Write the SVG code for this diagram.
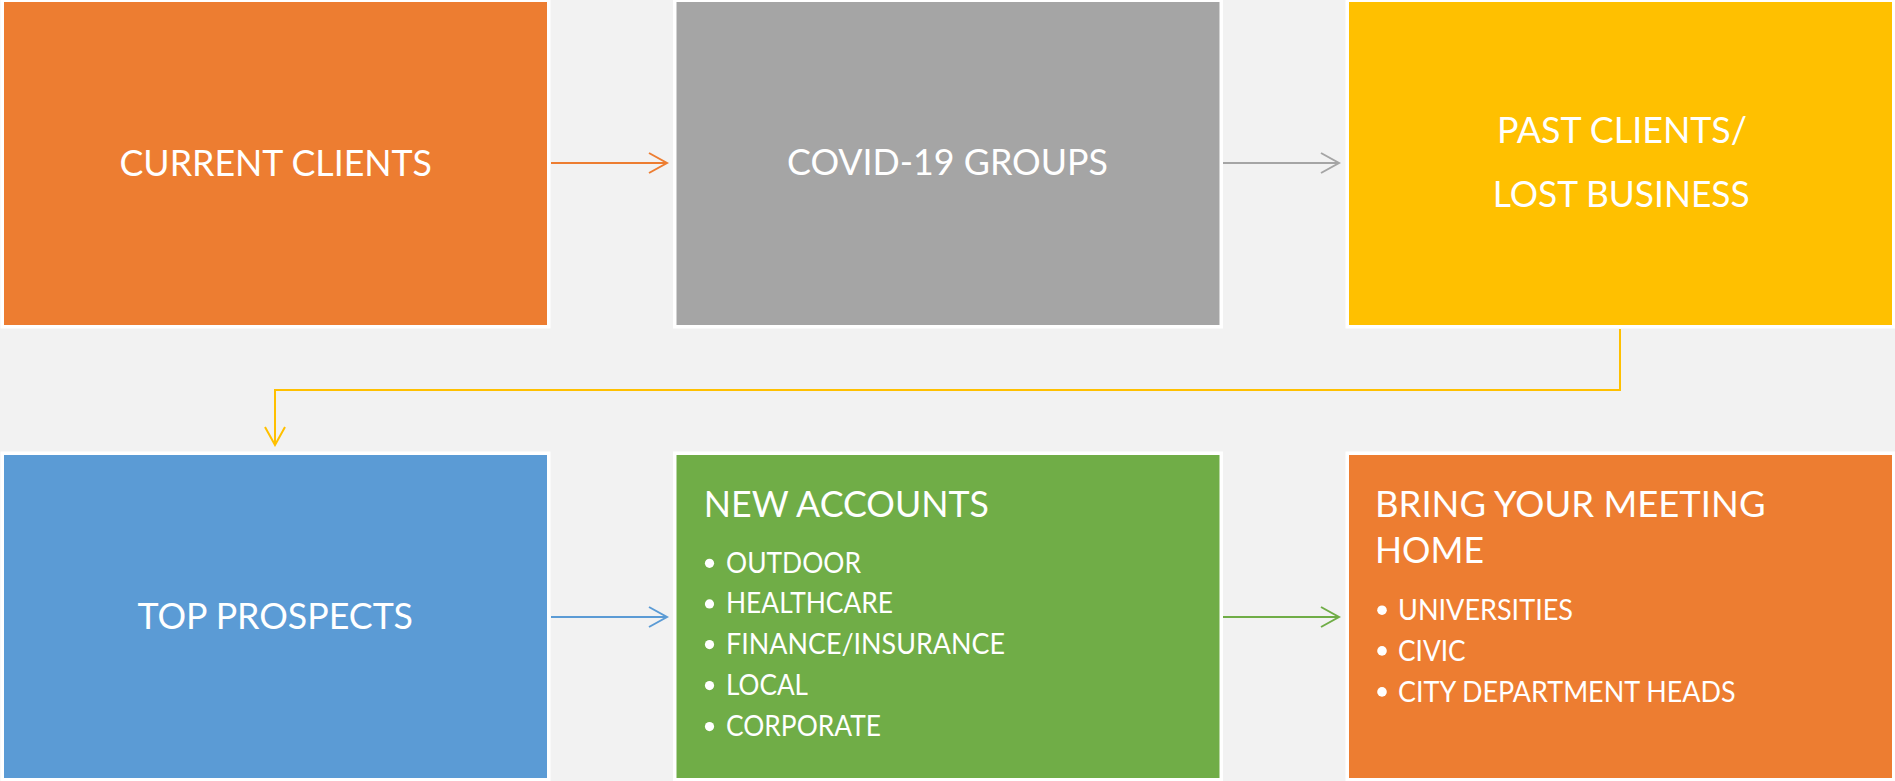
<svg xmlns="http://www.w3.org/2000/svg" width="1895" height="781" viewBox="0 0 1895 781">
  <defs>
    <style>
      .box { stroke: #ffffff; stroke-width: 3.5; }
      .t { font-family: Lato, "Liberation Sans", sans-serif; fill: #ffffff; }
      .title { font-size: 37px; }
      .head { font-size: 36px; }
      .item { font-size: 28px; }
      .dot { fill: #ffffff; }
      .link { fill: none; stroke-width: 2; }
      .head-mark { fill: none; stroke-width: 2; stroke-linejoin: miter; }
    </style>
    <marker id="arrOrange" markerUnits="userSpaceOnUse" viewBox="-22 -12 24 24" markerWidth="24" markerHeight="24" refX="0" refY="0" orient="auto">
      <path class="head-mark" d="M-18,-10 L0,0 L-18,10" stroke="#ED7D31"/>
    </marker>
    <marker id="arrGray" markerUnits="userSpaceOnUse" viewBox="-22 -12 24 24" markerWidth="24" markerHeight="24" refX="0" refY="0" orient="auto">
      <path class="head-mark" d="M-18,-10 L0,0 L-18,10" stroke="#A5A5A5"/>
    </marker>
    <marker id="arrYellow" markerUnits="userSpaceOnUse" viewBox="-22 -12 24 24" markerWidth="24" markerHeight="24" refX="0" refY="0" orient="auto">
      <path class="head-mark" d="M-18,-10 L0,0 L-18,10" stroke="#FFC000"/>
    </marker>
    <marker id="arrBlue" markerUnits="userSpaceOnUse" viewBox="-22 -12 24 24" markerWidth="24" markerHeight="24" refX="0" refY="0" orient="auto">
      <path class="head-mark" d="M-18,-10 L0,0 L-18,10" stroke="#5B9BD5"/>
    </marker>
    <marker id="arrGreen" markerUnits="userSpaceOnUse" viewBox="-22 -12 24 24" markerWidth="24" markerHeight="24" refX="0" refY="0" orient="auto">
      <path class="head-mark" d="M-18,-10 L0,0 L-18,10" stroke="#70AD47"/>
    </marker>
  </defs>

  <rect x="0" y="0" width="1895" height="781" fill="#F2F2F2"/>

  <!-- connectors -->
  <g id="connectors">
    <line class="link" x1="551" y1="163" x2="667" y2="163" stroke="#ED7D31" marker-end="url(#arrOrange)"/>
    <line class="link" x1="1223" y1="163" x2="1339" y2="163" stroke="#A5A5A5" marker-end="url(#arrGray)"/>
    <polyline class="link" points="1620,329 1620,390 275,390 275,445" stroke="#FFC000" marker-end="url(#arrYellow)"/>
    <line class="link" x1="551" y1="617" x2="667" y2="617" stroke="#5B9BD5" marker-end="url(#arrBlue)"/>
    <line class="link" x1="1223" y1="617" x2="1339" y2="617" stroke="#70AD47" marker-end="url(#arrGreen)"/>
  </g>

  <g id="current-clients">
    <rect class="box" x="2.25" y="0.25" width="546.5" height="326.5" fill="#ED7D31"/>
    <text class="t title" x="119.5" y="176" textLength="312.5" lengthAdjust="spacingAndGlyphs">CURRENT CLIENTS</text>
  </g>

  <g id="covid-groups">
    <rect class="box" x="674.75" y="0.25" width="546.5" height="326.5" fill="#A5A5A5"/>
    <text class="t title" x="787" y="175" textLength="321" lengthAdjust="spacingAndGlyphs">COVID-19 GROUPS</text>
  </g>

  <g id="past-clients">
    <rect class="box" x="1347.25" y="0.25" width="546.5" height="326.5" fill="#FFC000"/>
    <text class="t title" x="1497" y="142.7" textLength="250" lengthAdjust="spacingAndGlyphs">PAST CLIENTS/</text>
    <text class="t title" x="1492.7" y="206.7" textLength="257" lengthAdjust="spacingAndGlyphs">LOST BUSINESS</text>
  </g>

  <g id="top-prospects">
    <rect class="box" x="2.25" y="453.25" width="546.5" height="326.5" fill="#5B9BD5"/>
    <text class="t title" x="137.5" y="629" textLength="275.5" lengthAdjust="spacingAndGlyphs">TOP PROSPECTS</text>
  </g>

  <g id="new-accounts">
    <rect class="box" x="674.75" y="453.25" width="546.5" height="326.5" fill="#70AD47"/>
    <text class="t head" x="703.8" y="516.7" textLength="285" lengthAdjust="spacingAndGlyphs">NEW ACCOUNTS</text>
    <circle class="dot" cx="709.5" cy="563.3" r="4.6"/>
    <text class="t item" x="726" y="572.7" textLength="135" lengthAdjust="spacingAndGlyphs">OUTDOOR</text>
    <circle class="dot" cx="709.5" cy="603.9" r="4.6"/>
    <text class="t item" x="726" y="613.3" textLength="167" lengthAdjust="spacingAndGlyphs">HEALTHCARE</text>
    <circle class="dot" cx="709.5" cy="644.6" r="4.6"/>
    <text class="t item" x="726" y="654" textLength="279" lengthAdjust="spacingAndGlyphs">FINANCE/INSURANCE</text>
    <circle class="dot" cx="709.5" cy="685.6" r="4.6"/>
    <text class="t item" x="726" y="695" textLength="82" lengthAdjust="spacingAndGlyphs">LOCAL</text>
    <circle class="dot" cx="709.5" cy="726.6" r="4.6"/>
    <text class="t item" x="726" y="736" textLength="155" lengthAdjust="spacingAndGlyphs">CORPORATE</text>
  </g>

  <g id="bring-meeting-home">
    <rect class="box" x="1347.25" y="453.25" width="546.5" height="326.5" fill="#ED7D31"/>
    <text class="t head" x="1375" y="516.7" textLength="390.5" lengthAdjust="spacingAndGlyphs">BRING YOUR MEETING</text>
    <text class="t head" x="1375" y="563.3" textLength="109" lengthAdjust="spacingAndGlyphs">HOME</text>
    <circle class="dot" cx="1382" cy="610.2" r="4.8"/>
    <text class="t item" x="1398" y="620" textLength="175" lengthAdjust="spacingAndGlyphs">UNIVERSITIES</text>
    <circle class="dot" cx="1382" cy="650.9" r="4.8"/>
    <text class="t item" x="1398" y="660.7" textLength="67.6" lengthAdjust="spacingAndGlyphs">CIVIC</text>
    <circle class="dot" cx="1382" cy="691.9" r="4.8"/>
    <text class="t item" x="1398" y="701.7" textLength="337.5" lengthAdjust="spacingAndGlyphs">CITY DEPARTMENT HEADS</text>
  </g>
</svg>
